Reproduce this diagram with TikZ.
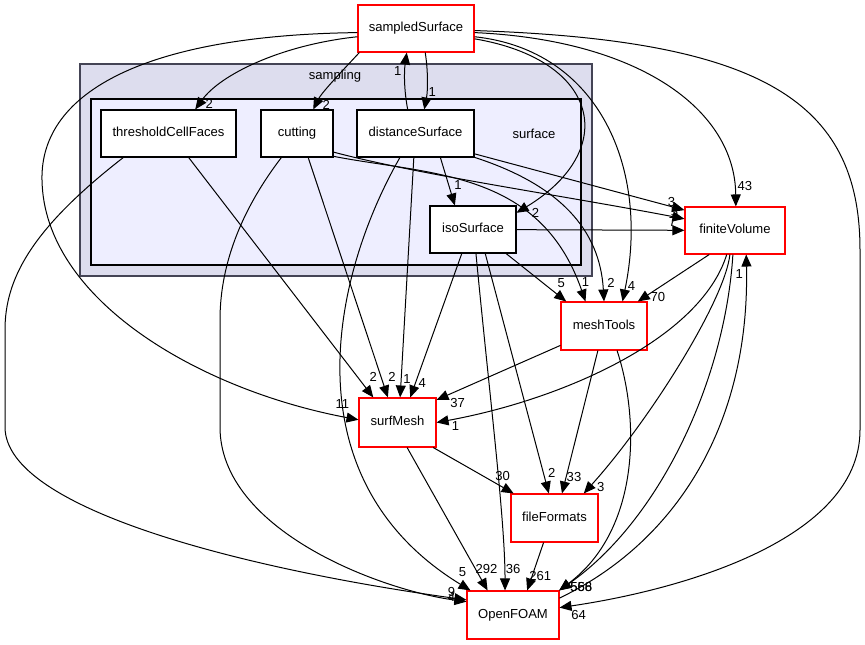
\documentclass[tikz,border=0pt]{standalone}
\usepackage{fontspec}
\setmainfont{Liberation Sans}
\usetikzlibrary{arrows.meta}

\definecolor{samplingfill}{HTML}{DDDDEE}
\definecolor{surfacefill}{HTML}{EEEEFF}
\definecolor{clusterline}{HTML}{444455}

\begin{document}
\begin{tikzpicture}[x=0.75pt,y=-0.75pt,->,>={Triangle[length=9pt,width=7.5pt]},line width=0.75pt,
    font=\fontsize{9.8}{11}\selectfont,
    dir node/.style={draw=black,fill=white,inner sep=0pt,minimum height=35.25pt,line width=0.8pt,
      text height=7pt,text depth=2pt},
    ext node/.style={dir node,draw=red},
    num/.style={inner sep=0pt}]
  \useasboundingbox (0,0) rectangle (865,644);

  % clusters
  \draw[-,fill=samplingfill,draw=clusterline,line width=1.5pt] (80,64) rectangle (592,276);
  \draw[-,fill=surfacefill,draw=black,line width=1pt] (91,99) rectangle (581,265);
  \node (samplingname) at (335,76) {sampling};
  \node (surfacename) at (534,134) {surface};

  \node[ext node, minimum width=87pt] (sampledSurface) at (416,28.5) {sampledSurface};
  \node[dir node, minimum width=101.25pt] (thresholdCellFaces) at (168.5,133.5) {thresholdCellFaces};
  \node[dir node, minimum width=54pt] (cutting) at (297,133.5) {cutting};
  \node[dir node, minimum width=87.75pt] (distanceSurface) at (415.5,133.5) {distanceSurface};
  \node[dir node, minimum width=64.5pt] (isoSurface) at (473,229.5) {isoSurface};
  \node[ext node, minimum width=75pt] (finiteVolume) at (735,230.5) {finiteVolume};
  \node[ext node, minimum width=64.5pt, minimum height=36pt] (meshTools) at (604,326) {meshTools};
  \node[ext node, minimum width=57.75pt, minimum height=36.75pt] (surfMesh) at (397.5,422.5) {surfMesh};
  \node[ext node, minimum width=65.25pt, minimum height=36pt] (fileFormats) at (554.5,518) {fileFormats};
  \node[ext node, minimum width=69pt, minimum height=36pt] (OpenFOAM) at (513,615) {OpenFOAM};

  % sampledSurface
  \draw (sampledSurface.188) .. controls (280,45) and (220,75) .. (thresholdCellFaces.42) node[num,pos=1,shift={(14,-6)}] {2};
  \draw (sampledSurface.203) .. controls (345,68) and (322,92) .. (cutting.56) node[num,pos=1,shift={(13,-5)}] {2};
  \draw (sampledSurface.291) .. controls (428,70) and (428,90) .. (distanceSurface.70) node[num,pos=1,shift={(8,-17)}] {1};
  \draw (distanceSurface.108) .. controls (404,90) and (404,72) .. (sampledSurface.249) node[num,pos=1,shift={(-9,18)}] {1};
  \draw (sampledSurface.350) .. controls (600,60) and (620,150) .. (isoSurface.21) node[num,pos=1,shift={(19,0)}] {2};
  \draw (sampledSurface.356) .. controls (640,40) and (735,110) .. (finiteVolume.88) node[num,pos=1,shift={(9,-20)}] {43};
  \draw (sampledSurface.352) .. controls (600,50) and (650,170) .. (meshTools.53) node[num,pos=1,shift={(9,-15)}] {4};
  \draw (sampledSurface.184) .. controls (150,35) and (40,90) .. (42,180) .. controls (44,300) and (200,390) .. (surfMesh.176) node[num,pos=1,shift={(-16,-16)}] {11};
  \draw (sampledSurface.358) .. controls (760,40) and (860,100) .. (860,250) -- (860,430) .. controls (860,540) and (680,590) .. (OpenFOAM.9) node[num,pos=1,shift={(19,7)}] {64};

  % surface subdirs
  \draw (thresholdCellFaces.208) .. controls (30,230) and (5,280) .. (5,330) -- (5,427) .. controls (5,510) and (250,570) .. (OpenFOAM.162) node[num,pos=1,shift={(-15,-8)}] {9};
  \draw (cutting.237) .. controls (245,205) and (220,260) .. (220,320) -- (220,427) .. controls (220,530) and (380,590) .. (OpenFOAM.164) node[num,pos=1,shift={(-15,-5)}] {4};
  \draw (cutting.333) .. controls (420,175) and (560,195) .. (finiteVolume.167) node[num,pos=1,shift={(-10,-7)}] {5};
  \draw (cutting.328) .. controls (430,175) and (540,170) .. (meshTools.127) node[num,pos=1,shift={(0,-19)}] {1};
  \draw (distanceSurface.237) .. controls (330,280) and (290,480) .. (OpenFOAM.150) node[num,pos=1,shift={(-8,-18)}] {5};
  \draw (distanceSurface.338) .. controls (560,185) and (600,230) .. (meshTools.90) node[num,pos=1,shift={(7,-19)}] {2};
  \draw (isoSurface.277) .. controls (490,400) and (505,520) .. (OpenFOAM.108) node[num,pos=1,shift={(8,-21)}] {36};

  \path
    (thresholdCellFaces.310) edge node[num,pos=1,shift={(0,-21)}] {2} (surfMesh.134)
    (cutting.295) edge node[num,pos=1,shift={(4,-21)}] {2} (surfMesh.111)
    (distanceSurface.316) edge node[num,pos=1,shift={(3,-20)}] {1} (isoSurface.127)
    (distanceSurface.266) edge node[num,pos=1,shift={(7,-18)}] {1} (surfMesh.84)
    (distanceSurface.341) edge node[num,pos=1,shift={(-13,-8)}] {3} (finiteVolume.158)
    (isoSurface) edge node[num,pos=1,shift={(-12,-8)}] {7} (finiteVolume)
    (isoSurface.324) edge node[num,pos=1,shift={(-5,-18)}] {5} (meshTools.147)
    (isoSurface.245) edge node[num,pos=1,shift={(12,-14)}] {4} (surfMesh.63)
    (isoSurface.297) edge node[num,pos=1,shift={(3,-21)}] {2} (fileFormats.103)
    ;

  % outside
  \draw (finiteVolume.251) .. controls (700,340) and (560,400) .. (surfMesh.east) node[num,pos=1,shift={(19,3)}] {1};
  \draw (finiteVolume.258) .. controls (725,300) and (650,420) .. (fileFormats.40) node[num,pos=1,shift={(17,-6)}] {3};
  \draw (finiteVolume.265) .. controls (725,380) and (660,520) .. (OpenFOAM.28) node[num,pos=1,shift={(22,-3)}] {568};
  \draw (meshTools.298) .. controls (640,420) and (640,530) .. (OpenFOAM.28) node[num,pos=1,shift={(22,-3)}] {556};
  \draw (OpenFOAM.20) .. controls (680,540) and (750,420) .. (finiteVolume.295) node[num,pos=1,shift={(-7,19)}] {1};

  \path
    (finiteVolume.223) edge node[num,pos=1,shift={(20,-4)}] {70} (meshTools.36)
    (meshTools.204) edge node[num,pos=1,shift={(21,3)}] {37} (surfMesh.30)
    (meshTools.256) edge node[num,pos=1,shift={(12,-16)}] {33} (fileFormats.73)
    (surfMesh.325) edge node[num,pos=1,shift={(-11,-17)}] {30} (fileFormats.149)
    (surfMesh.291) edge node[num,pos=1,shift={(-1,-21)}] {292} (OpenFOAM.136)
    (fileFormats.246) edge node[num,pos=1,shift={(13,-14)}] {261} (OpenFOAM.60)
    ;
\end{tikzpicture}
\end{document}
